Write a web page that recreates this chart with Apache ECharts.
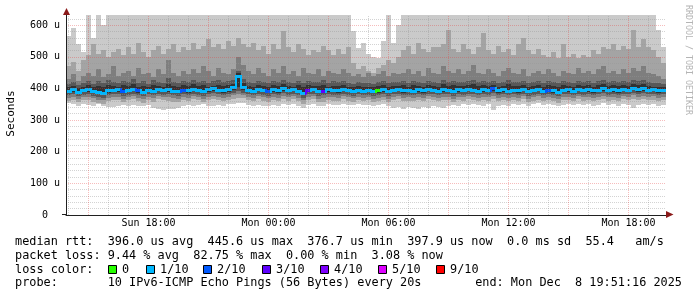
<!DOCTYPE html>
<html><head><meta charset="utf-8">
<script src="https://cdn.jsdelivr.net/npm/echarts@6/dist/echarts.min.js"></script>
<style>html,body{margin:0;padding:0;background:#fff}#c{width:697px;height:297px}</style>
</head><body><div id="c"></div>
<script>
// ---- axis ticks / labels ----
const xGridHours = [14,15,16,17,18,19,20,21,22,23,24,25,26,27,28,29,30,31,32,33,34,35,36,37,38,39,40,41,42,43];
const xLabelHours = [18,24,30,36,42];
const xLabelText = ['Sun 18:00','Mon 00:00','Mon 06:00','Mon 12:00','Mon 18:00'];
const yMaxValue = 632; // microseconds
// ---- smoke: sorted ping percentiles per 15-min bin (microseconds) ----
const p10 = [565,590,540,515,640,560,640,600,640,640,
 640,640,640,640,640,640,640,640,640,640,
 640,640,640,640,640,640,640,640,640,640,
 640,640,640,640,640,640,640,640,640,640,
 640,640,640,640,640,640,640,640,640,640,
 640,640,640,640,640,640,640,580,528,545,
 510,500,495,550,640,545,600,640,640,640,
 640,640,640,640,640,640,640,640,640,640,
 640,640,640,640,640,640,640,640,640,640,
 640,640,640,640,640,640,640,640,640,640,
 640,640,640,640,640,640,640,640,640,640,
 640,640,640,640,640,640,640,640,585,530];
const p9 = [470,485,455,490,505,540,510,520,500,515,
 525,505,530,510,545,515,500,520,535,510,
 525,540,515,530,520,545,525,535,555,530,
 540,525,550,535,560,540,530,545,520,535,
 510,540,525,580,530,515,540,525,505,520,
 515,535,520,505,525,510,530,480,460,470,
 455,450,465,475,490,480,500,520,535,510,
 545,525,515,530,530,540,585,525,515,540,
 525,510,530,575,520,510,535,515,525,505,
 540,560,520,510,525,505,500,515,495,540,
 500,510,495,505,500,520,510,530,525,540,
 520,535,525,585,530,555,530,520,500,480];
const p8 = [430,445,425,440,450,440,460,435,445,470,
 440,450,455,440,465,445,450,435,460,445,
 490,450,440,455,445,460,450,470,455,440,
 465,450,445,460,500,475,455,445,465,450,
 440,460,450,470,445,455,440,465,450,445,
 460,440,455,450,445,460,450,440,445,435,
 450,440,445,455,440,450,445,450,460,445,
 455,440,465,450,445,470,455,450,460,445,
 455,475,450,445,460,450,440,455,465,450,
 445,460,440,450,455,445,460,450,440,455,
 450,445,465,450,455,445,460,470,450,455,
 445,460,450,465,455,470,450,445,440,430];
const p7 = [415,420,412,418,425,415,422,418,428,420,
 416,424,419,430,418,422,415,426,420,418,
 432,421,417,425,419,428,420,424,418,422,
 426,419,423,428,455,430,421,418,425,420,
 417,424,419,427,421,416,423,418,425,420,
 419,426,417,422,420,424,418,415,420,416,
 418,414,420,423,417,421,419,424,418,422,
 420,417,425,421,418,426,420,423,419,421,
 424,428,419,422,420,425,418,421,426,420,
 419,423,417,421,424,418,422,420,416,423,
 420,417,424,419,422,418,425,427,421,423,
 419,424,420,428,422,426,420,418,417,415];
const p6 = [404,408,402,406,410,404,409,406,412,407,
 405,411,407,414,406,409,404,412,408,406,
 415,409,405,411,407,413,408,410,406,409,
 412,407,410,414,450,416,409,406,411,408,
 406,411,407,413,409,405,410,406,412,408,
 407,412,405,409,408,411,406,404,408,405,
 406,403,408,410,405,409,407,411,406,410,
 408,405,412,409,406,413,408,410,407,409,
 411,414,407,410,408,412,406,409,413,408,
 407,410,405,409,411,406,410,408,404,410,
 408,405,411,407,410,406,412,414,409,410,
 407,411,408,415,410,413,408,406,405,404];
const median = [393,398,390,395,397,392,388,386,394,396,
 398,392,395,399,394,390,396,393,399,395,
 397,393,391,396,394,399,395,392,397,401,
 396,394,398,403,440,405,396,393,399,395,
 392,397,394,400,395,398,393,385,396,399,
 392,393,397,395,394,398,395,392,396,393,
 395,391,394,397,392,396,398,394,395,393,
 397,394,399,396,393,398,396,391,397,395,
 399,396,393,397,395,400,394,397,393,396,
 394,398,391,395,399,393,396,394,390,396,
 397,393,399,395,398,394,396,401,395,398,
 394,399,396,402,397,400,396,398,394,396];
const p5 = [386,390,383,388,389,385,381,379,387,389,
 390,384,388,391,387,383,389,386,391,388,
 389,386,384,389,387,391,388,385,390,393,
 389,387,390,395,405,396,389,386,391,388,
 385,390,387,392,388,391,386,379,389,391,
 385,386,390,388,387,391,388,385,389,386,
 388,384,387,390,385,389,391,387,388,386,
 390,387,391,389,386,390,389,384,390,388,
 391,389,386,390,388,392,387,390,386,389,
 387,391,384,388,391,386,389,387,383,389,
 390,386,391,388,390,387,389,393,388,390,
 387,391,389,394,390,392,389,391,387,389];
const p4 = [378,382,375,380,381,377,373,371,379,381,
 382,376,380,383,379,375,381,378,383,380,
 381,378,376,381,379,383,380,377,382,384,
 381,379,382,386,392,387,381,378,383,380,
 377,382,379,384,380,383,378,371,381,383,
 377,378,382,380,379,383,380,377,381,378,
 380,376,379,382,377,381,383,379,380,378,
 382,379,383,381,378,382,381,376,382,380,
 383,381,378,382,380,384,379,382,378,381,
 379,383,376,380,383,378,381,379,375,381,
 382,378,383,380,382,379,381,385,380,382,
 379,383,381,386,382,384,381,383,379,381];
const p3 = [370,374,366,372,373,369,364,362,371,373,
 374,367,372,375,370,366,373,369,375,372,
 372,369,367,373,371,375,372,368,374,376,
 373,371,374,378,382,379,373,370,375,372,
 369,374,371,376,372,375,370,362,373,375,
 368,369,374,372,371,375,372,369,373,370,
 372,367,371,374,368,373,375,371,372,370,
 374,371,375,373,370,374,373,367,374,372,
 375,373,370,374,372,376,371,374,370,373,
 371,375,367,372,375,370,373,371,366,373,
 374,370,375,372,374,371,373,377,372,374,
 371,375,373,378,374,376,373,375,371,373];
const p2 = [360,364,356,362,363,358,354,352,361,363,
 364,356,362,365,359,355,363,358,365,362,
 361,358,356,363,360,365,362,357,364,366,
 363,360,364,368,370,369,362,359,365,361,
 358,364,360,366,361,365,359,351,363,365,
 357,358,364,361,360,365,361,358,363,359,
 362,356,360,364,357,362,365,360,361,359,
 364,360,365,362,359,364,362,356,364,361,
 365,362,359,364,361,366,360,363,359,362,
 360,365,356,361,364,359,362,360,355,362,
 363,359,365,361,364,360,362,367,361,363,
 360,365,362,368,363,366,362,364,360,362];
const p1 = [355,350,345,352,348,346,350,344,342,340,
 343,347,345,349,344,346,348,338,335,333,
 336,334,338,345,349,344,347,351,346,343,
 348,345,350,352,355,353,347,345,349,346,
 344,349,346,351,347,350,345,338,348,350,
 344,346,351,348,347,352,349,348,350,347,
 349,345,348,351,346,338,340,336,342,339,
 335,341,337,343,340,338,346,349,345,350,
 347,351,348,345,350,333,344,349,346,351,
 348,352,346,350,353,347,350,348,344,349,
 351,347,352,349,351,346,349,353,347,350,
 346,350,348,339,349,352,347,350,346,348];
// loss per bin: index into lossLabels / lossColors
const loss = [1,1,1,1,1,1,1,1,1,1,
 1,2,1,1,2,1,1,1,1,1,
 1,1,1,2,1,1,1,1,1,1,
 1,1,1,1,1,1,1,1,1,1,
 2,1,1,1,1,1,1,1,3,1,
 1,3,1,1,1,1,1,1,1,1,
 1,1,0,1,1,1,1,1,1,1,
 1,1,1,1,1,1,1,1,1,1,
 1,1,1,1,1,2,1,1,1,1,
 1,1,1,1,1,1,2,1,1,1,
 1,1,1,1,1,1,1,1,1,1,
 1,1,1,1,1,1,1,1,1,1];
const lossLabels = ['0','1/10','2/10','3/10','4/10','5/10','9/10'];
const lossColors = ['#26ff00','#00b8ff','#0059ff','#5e00ff','#7e00ff','#dd00ff','#ff0000'];
const statLines = [
 'median rtt:  396.0 us avg  445.6 us max  376.7 us min  397.9 us now  0.0 ms sd  55.4   am/s',
 'packet loss: 9.44 % avg  82.75 % max  0.00 % min  3.08 % now'
];
const probeText = 'probe:       10 IPv6-ICMP Echo Pings (56 Bytes) every 20s';
const endText = 'end: Mon Dec  8 19:51:16 2025';

// ---- styles / layout ----
const smokeShades = ['#cacaca','#a4a4a4','#7e7e7e','#585858','#323232'];
const MONO = '"DejaVu Sans Mono", monospace';
const gridMinor = 'rgba(150,150,150,0.42)';
const gridMajor = 'rgba(230,60,60,0.34)';
const binStart = 13.875, binStep = 0.25;
const legendBoxX = [108,146,203,262,320,378,436];

const smokeData = p10.map((_, i) => [binStart + i*binStep, binStart + (i+1)*binStep,
  p1[i],p2[i],p3[i],p4[i],p5[i],p6[i],p7[i],p8[i],p9[i],p10[i]]);
const medianData = median.map((m, i) => [binStart + i*binStep, binStart + (i+1)*binStep,
  m, i > 0 ? median[i-1] : m, loss[i]]);

function clampY(api, cs, t, v) {
  const y = api.coord([t, v])[1];
  return Math.max(cs.y, Math.min(cs.y + cs.height, y));
}
function renderSmoke(params, api) {
  const cs = params.coordSys;
  const t0 = api.value(0), t1 = api.value(1);
  const xa = Math.round(api.coord([t0, 0])[0]);
  const xb = Math.round(api.coord([t1, 0])[0]);
  const children = [];
  for (let k = 0; k < 5; k++) {
    const lo = api.value(2 + k), hi = api.value(11 - k);
    const y1 = Math.round(clampY(api, cs, t0, hi));
    const y2 = Math.round(clampY(api, cs, t0, lo));
    children.push({type: 'rect', shape: {x: xa, y: y1, width: xb - xa, height: y2 - y1},
      style: {fill: smokeShades[k]}});
  }
  return {type: 'group', children};
}
function renderMedian(params, api) {
  const cs = params.coordSys;
  const t0 = api.value(0), t1 = api.value(1);
  const xa = Math.round(api.coord([t0, 0])[0]);
  const xb = Math.round(api.coord([t1, 0])[0]);
  const y = Math.round(clampY(api, cs, t0, api.value(2)));
  const yp = Math.round(clampY(api, cs, t0, api.value(3)));
  const col = lossColors[api.value(4)];
  const children = [
    {type: 'rect', shape: {x: xa, y: y - 1, width: xb - xa, height: 3}, style: {fill: col}}
  ];
  if (yp !== y) {
    const a = Math.min(y, yp), b = Math.max(y, yp);
    children.push({type: 'rect', shape: {x: xa - 1, y: a - 1, width: 2, height: b - a + 3}, style: {fill: col}});
  }
  return {type: 'group', children};
}

const graphics = [];
const textStyle = (txt, x, y, extra) => Object.assign({text: txt, x: x, y: y,
  font: '11.85px ' + MONO, fill: '#000', align: 'left', verticalAlign: 'middle',
  textAlign: 'left', textVerticalAlign: 'middle'}, extra || {});
const rowY = [241.5, 255.5, 269.5, 283];
statLines.forEach((s, i) => graphics.push({type: 'text', style: textStyle(s, 15, rowY[i])}));
graphics.push({type: 'text', style: textStyle('loss color:', 15, rowY[2])});
lossLabels.forEach((lab, i) => {
  graphics.push({type: 'rect', shape: {x: legendBoxX[i] + 0.5, y: rowY[2] - 4, width: 8, height: 8},
    style: {fill: lossColors[i], stroke: '#000', lineWidth: 1}});
  graphics.push({type: 'text', style: textStyle(lab, legendBoxX[i] + 14, rowY[2])});
});
graphics.push({type: 'text', style: textStyle(probeText, 15, rowY[3])});
graphics.push({type: 'text', style: textStyle(endText, 682, rowY[3], {align: 'right', textAlign: 'right'})});
graphics.push({type: 'text', rotation: Math.PI / 2, x: 11, y: 113.5,
  style: {text: 'Seconds', x: 0, y: 0, font: '11px ' + MONO, fill: '#000',
    align: 'center', verticalAlign: 'middle', textAlign: 'center', textVerticalAlign: 'middle'}});
graphics.push({type: 'text', rotation: -Math.PI / 2, x: 688, y: 60,
  style: {text: 'RRDTOOL / TOBI OETIKER', x: 0, y: 0, font: '8.3px ' + MONO, fill: '#b4b4b4',
    align: 'center', verticalAlign: 'middle', textAlign: 'center', textVerticalAlign: 'middle'}});
graphics.push({type: 'polygon', shape: {points: [[63, 15], [70, 15], [66.5, 8]]}, style: {fill: '#8b1a1a'}, z: 10});
graphics.push({type: 'polygon', shape: {points: [[666, 211], [666, 218], [673.5, 214.5]]}, style: {fill: '#8b1a1a'}, z: 10});
graphics.push({type: 'rect', shape: {x: 62, y: 214, width: 4, height: 1}, style: {fill: '#202020'}});

const chart = echarts.init(document.getElementById('c'), null, {renderer: 'canvas'});
chart.setOption({
  animation: false,
  backgroundColor: '#fff',
  grid: {left: 66, top: 15, width: 600, height: 200, containLabel: false},
  xAxis: {
    type: 'value', min: binStart, max: binStart + 30, z: 5,
    splitLine: {show: false},
    axisTick: {show: false},
    axisLine: {lineStyle: {color: '#202020', width: 1}},
    axisLabel: {customValues: xLabelHours, margin: 3, fontFamily: MONO, fontSize: 10, color: '#000',
      formatter: v => { const k = xLabelHours.indexOf(Math.round(v)); return k >= 0 ? xLabelText[k] : ''; }}
  },
  yAxis: {
    type: 'value', min: 0, max: yMaxValue, interval: 20, z: 5,
    axisLine: {show: true, lineStyle: {color: '#202020', width: 1}},
    axisTick: {show: false},
    splitLine: {show: true, showMaxLine: false,
      lineStyle: {color: [gridMajor, gridMinor, gridMinor, gridMinor, gridMinor], type: [1, 1], width: 1}},
    axisLabel: {margin: 6, fontFamily: MONO, fontSize: 10, color: '#000', showMaxLabel: false,
      formatter: v => (v % 100 === 0 && v <= 600) ? (v === 0 ? '0  ' : v + ' u') : ''}
  },
  series: [
    {type: 'custom', name: 'smoke', renderItem: renderSmoke, data: smokeData, z: 2,
      encode: {x: [0, 1], y: [2, 11]}, silent: true},
    {type: 'custom', name: 'median', renderItem: renderMedian, data: medianData, z: 3,
      encode: {x: [0, 1], y: [2]}, silent: true},
    {type: 'line', name: 'vgrid', data: [[binStart, 0]], symbol: 'none', z: 6, silent: true,
      lineStyle: {opacity: 0},
      markLine: {silent: true, symbol: ['none', 'none'], label: {show: false}, animation: false,
        lineStyle: {type: [1, 1], width: 1},
        data: xGridHours.map(h => ({xAxis: h, lineStyle: {color: h % 3 === 0 ? gridMajor : gridMinor, type: [1, 1], width: 1}}))}}
  ],
  graphic: graphics
});
</script></body></html>
